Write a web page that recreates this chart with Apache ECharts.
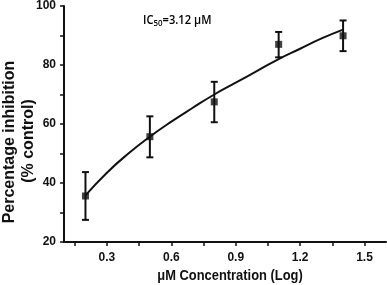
<!DOCTYPE html>
<html><head><meta charset="utf-8">
<script src="https://cdn.jsdelivr.net/npm/echarts@6/dist/echarts.min.js"></script>
<style>html,body{margin:0;padding:0;background:#fff}#c{width:387px;height:285px}</style>
</head><body><div id="c"></div>
<script>
// Data
const concentrations = [0.2, 0.5, 0.8, 1.1, 1.4];
const inhibitionMean = [35.6, 55.7, 67.5, 87.0, 89.9];
const errorLow = [27.5, 48.7, 60.6, 82.6, 84.7];
const errorHigh = [43.7, 62.6, 74.3, 91.2, 95.1];
const fitX = [0.2, 0.3, 0.4, 0.5, 0.6, 0.7, 0.8, 0.9, 1.0, 1.1, 1.2, 1.3, 1.4];
const fitY = [35.8, 43.5, 50.0, 55.7, 60.8, 65.5, 70.0, 74.0, 78.0, 82.0, 85.5, 89.0, 92.0];
const xTickValues = [0.15, 0.3, 0.45, 0.6, 0.75, 0.9, 1.05, 1.2, 1.35, 1.5];
const xLabelValues = [0.3, 0.6, 0.9, 1.2, 1.5];
const yTickValues = [20, 30, 40, 50, 60, 70, 80, 90, 100];
const yLabelValues = [20, 40, 60, 80, 100];

const chart = echarts.init(document.getElementById('c'), null, {renderer: 'canvas'});
const lab = {fontFamily: 'Liberation Sans, Arial, sans-serif', fontWeight: 'bold', fontSize: 12, color: '#111'};
const axisLine = {show: true, onZero: false, lineStyle: {color: '#111', width: 2}};
chart.setOption({
  animation: false,
  grid: {left: 64, right: 1, top: 6, bottom: 43},
  xAxis: {
    type: 'value', min: 0.1, max: 1.6,
    axisLine: axisLine,
    axisTick: {show: true, customValues: xTickValues, length: 4, lineStyle: {color: '#111', width: 1.5}},
    axisLabel: Object.assign({customValues: xLabelValues, margin: 10, formatter: v => v.toFixed(1)}, lab),
    splitLine: {show: false}
  },
  yAxis: {
    type: 'value', min: 20, max: 100,
    axisLine: axisLine,
    axisTick: {show: true, customValues: yTickValues, length: 4, lineStyle: {color: '#111', width: 1.5}},
    axisLabel: Object.assign({customValues: yLabelValues, margin: 8}, lab),
    splitLine: {show: false}
  },
  graphic: [
    {type: 'text', x: 230, y: 276, scaleX: 0.86, style: {text: 'μM Concentration (Log)', font: 'bold 15px Liberation Sans, Arial, sans-serif', fill: '#111', align: 'center', verticalAlign: 'middle'}},
    {type: 'text', x: 10, y: 142, rotation: Math.PI / 2, style: {text: 'Percentage inhibition', font: 'bold 16px Liberation Sans, Arial, sans-serif', fill: '#111', align: 'center', verticalAlign: 'middle'}},
    {type: 'text', x: 29, y: 141, rotation: Math.PI / 2, style: {text: '(% control)', font: 'bold 16px Liberation Sans, Arial, sans-serif', fill: '#111', align: 'center', verticalAlign: 'middle'}},
    {type: 'text', x: 143, y: 21, scaleX: 0.93, style: {
      text: '{a|IC}{s|50}{a|=3.12 μM}', verticalAlign: 'middle',
      rich: {
        a: {fontFamily: 'Open Sans, sans-serif', fontSize: 12, fontWeight: 600, fill: '#000', color: '#000'},
        s: {fontFamily: 'Open Sans, sans-serif', fontSize: 8.5, fontWeight: 600, fill: '#000', color: '#000', padding: [6, 0, 0, 0]}
      }
    }}
  ],
  series: [
    {
      type: 'line', data: fitX.map((x, i) => [x, fitY[i]]), smooth: true, showSymbol: false,
      lineStyle: {color: '#111', width: 2}, z: 2
    },
    {
      type: 'custom', z: 3,
      data: concentrations.map((x, i) => [x, errorLow[i], errorHigh[i]]),
      renderItem: function (params, api) {
        const lo = api.coord([api.value(0), api.value(1)]);
        const hi = api.coord([api.value(0), api.value(2)]);
        const w = 3.5;
        const st = {stroke: '#111', lineWidth: 2};
        return {type: 'group', children: [
          {type: 'line', shape: {x1: hi[0], y1: hi[1], x2: lo[0], y2: lo[1]}, style: st},
          {type: 'line', shape: {x1: hi[0] - w, y1: hi[1], x2: hi[0] + w, y2: hi[1]}, style: st},
          {type: 'line', shape: {x1: lo[0] - w, y1: lo[1], x2: lo[0] + w, y2: lo[1]}, style: st}
        ]};
      }
    },
    {
      type: 'scatter', symbol: 'rect', symbolSize: 7, z: 4,
      data: concentrations.map((x, i) => [x, inhibitionMean[i]]),
      itemStyle: {color: '#111'}
    }
  ]
});
</script></body></html>
